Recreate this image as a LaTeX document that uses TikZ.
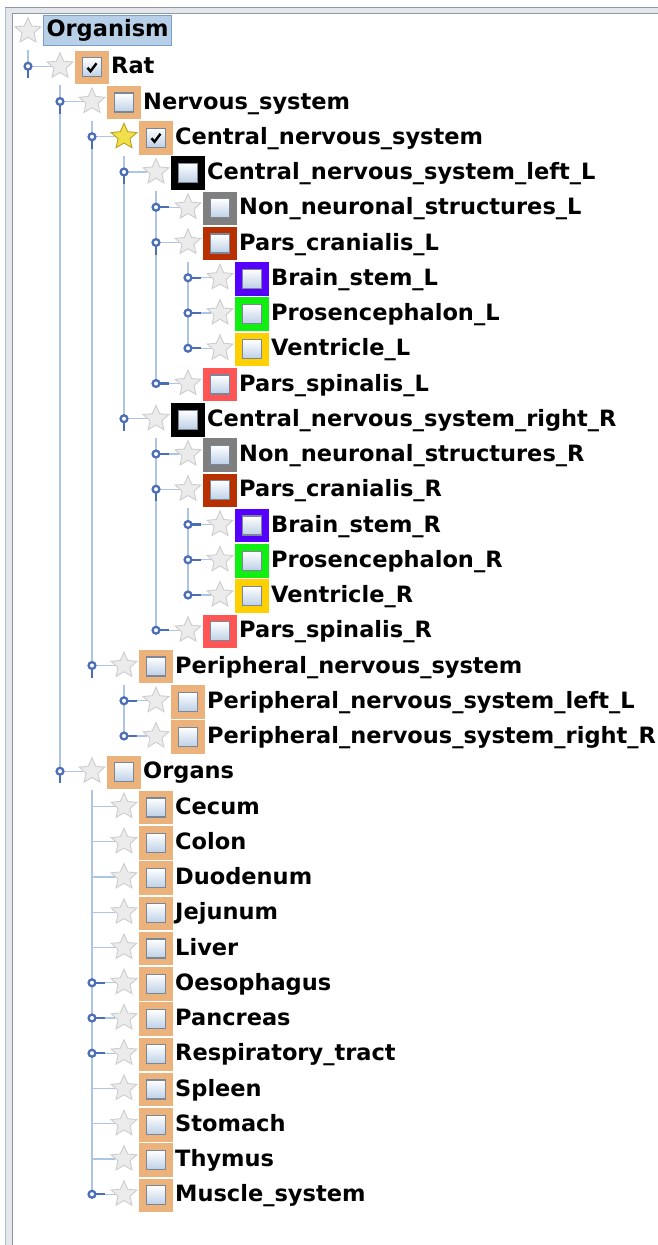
\documentclass[tikz,border=0pt]{standalone}
\usepackage{fontspec}
\setmainfont{DejaVu Sans}
\usetikzlibrary{shapes.geometric}
\definecolor{treeblue}{HTML}{AEC4E6}
\definecolor{knobblue}{HTML}{4B6EB5}
\definecolor{boxorange}{HTML}{EBB27C}
\definecolor{nongray}{HTML}{7F7F7F}
\definecolor{cranred}{HTML}{B83000}
\definecolor{brainblue}{HTML}{5500FF}
\definecolor{prosgreen}{HTML}{11EE11}
\definecolor{ventyellow}{HTML}{FFD000}
\definecolor{spinred}{HTML}{FF5555}
\definecolor{selblue}{HTML}{B8CFE8}
\definecolor{selborder}{HTML}{7A9CCF}
\definecolor{plainfill}{HTML}{EBEBEB}
\definecolor{plaindraw}{HTML}{CDCDCD}
\definecolor{goldfill}{HTML}{F2E04A}
\definecolor{golddraw}{HTML}{B8A020}
\definecolor{boxgray}{HTML}{7B8796}
\definecolor{boxblue}{HTML}{BDD0E6}
\definecolor{framefill}{HTML}{E4E6E9}
\definecolor{frameblue}{HTML}{A8C0E0}
\definecolor{framedark}{HTML}{8B98A8}
\begin{document}
\begin{tikzpicture}[x=1pt, y=-1pt, font=\fontsize{22.5}{26}\selectfont\bfseries,
    treeline/.style={draw=treeblue, line width=1.4pt},
    knobline/.style={draw=knobblue, line width=2.3pt},
    staricon/.style={star, star points=5, star point ratio=2.15, minimum size=27pt, inner sep=0pt,
      fill=#1fill, draw=#1draw, line width=0.9pt},
    outerbox/.style={minimum size=33.5pt, inner sep=0pt, fill=#1},
    checkbox/.style={minimum size=19pt, inner sep=0pt, draw=boxgray, line width=1.4pt,
      top color=white, bottom color=boxblue},
    checkmark/.style={line width=2.4pt},
    itemtext/.style={anchor=base west, inner sep=0pt}]
    \useasboundingbox (0,0) rectangle (658,1245);
    \fill[framefill] (5,7) rectangle (658,1245);
    \fill[white] (13,14) rectangle (658,1245);
    \draw[frameblue, line width=1.2pt] (5.6,7) -- (5.6,1245);
    \draw[framedark, line width=1.2pt] (5,7.6) -- (658,7.6);
    \draw[framedark, line width=1.2pt] (12.4,13.4) -- (12.4,1245) (12.4,13.4) -- (658,13.4);
    \node[staricon=plain] (s0) at (28,31) {};
    \node[fill=selblue, draw=selborder, line width=1pt, anchor=west, minimum height=30pt,
      inner xsep=3pt, inner ysep=0pt] (t0) at (43,30) {Organism};
    \foreach \r/\l/\txt/\col/\sc in {
        1/1/Rat/boxorange/plain,
        2/2/Nervous\_system/boxorange/plain,
        3/3/Central\_nervous\_system/boxorange/gold,
        4/4/Central\_nervous\_system\_left\_L/black/plain,
        5/5/Non\_neuronal\_structures\_L/nongray/plain,
        6/5/Pars\_cranialis\_L/cranred/plain,
        7/6/Brain\_stem\_L/brainblue/plain,
        8/6/Prosencephalon\_L/prosgreen/plain,
        9/6/Ventricle\_L/ventyellow/plain,
        10/5/Pars\_spinalis\_L/spinred/plain,
        11/4/Central\_nervous\_system\_right\_R/black/plain,
        12/5/Non\_neuronal\_structures\_R/nongray/plain,
        13/5/Pars\_cranialis\_R/cranred/plain,
        14/6/Brain\_stem\_R/brainblue/plain,
        15/6/Prosencephalon\_R/prosgreen/plain,
        16/6/Ventricle\_R/ventyellow/plain,
        17/5/Pars\_spinalis\_R/spinred/plain,
        18/3/Peripheral\_nervous\_system/boxorange/plain,
        19/4/Peripheral\_nervous\_system\_left\_L/boxorange/plain,
        20/4/Peripheral\_nervous\_system\_right\_R/boxorange/plain,
        21/2/Organs/boxorange/plain,
        22/3/Cecum/boxorange/plain,
        23/3/Colon/boxorange/plain,
        24/3/Duodenum/boxorange/plain,
        25/3/Jejunum/boxorange/plain,
        26/3/Liver/boxorange/plain,
        27/3/Oesophagus/boxorange/plain,
        28/3/Pancreas/boxorange/plain,
        29/3/Respiratory\_tract/boxorange/plain,
        30/3/Spleen/boxorange/plain,
        31/3/Stomach/boxorange/plain,
        32/3/Thymus/boxorange/plain,
        33/3/Muscle\_system/boxorange/plain}{
      \coordinate (k\r) at ({28+32*(\l-1)},{31+35.25*\r});
      \node[staricon=\sc] (s\r) at ({28+32*\l},{31+35.25*\r}) {};
      \node[outerbox=\col] (b\r) at ({60+32*\l},{32+35.25*\r}) {};
      \node[checkbox] (c\r) at (b\r) {};
      \node[itemtext] (t\r) at ({79+32*\l},{38.5+35.25*\r}) {\txt};
      \draw[treeline] (k\r) -- (s\r.west);
    }
    \foreach \r in {1,3}
      \draw[checkmark] (c\r.center) ++(-4.5,0.5) -- ++(3,3.5) -- ++(6,-8);
    \foreach \p/\q in {0/1,1/21,2/18,3/11,4/10,6/9,11/17,13/16,18/20,21/33}
      \draw[treeline] ([yshift=-19pt]s\p.center) -- (k\q);
    \foreach \r in {1,2,3,4,6,11,13,18,21}{
      \draw[knobline] (k\r) -- ++(0,12);
      \draw[knobline, fill=white] (k\r) circle (3.4pt);
    }
    \foreach \r in {5,7,8,9,10,12,14,15,16,17,19,20,27,28,29,33}{
      \draw[knobline] (k\r) -- ++(13,0);
      \draw[knobline, fill=white] (k\r) circle (3.4pt);
    }
\end{tikzpicture}
\end{document}
